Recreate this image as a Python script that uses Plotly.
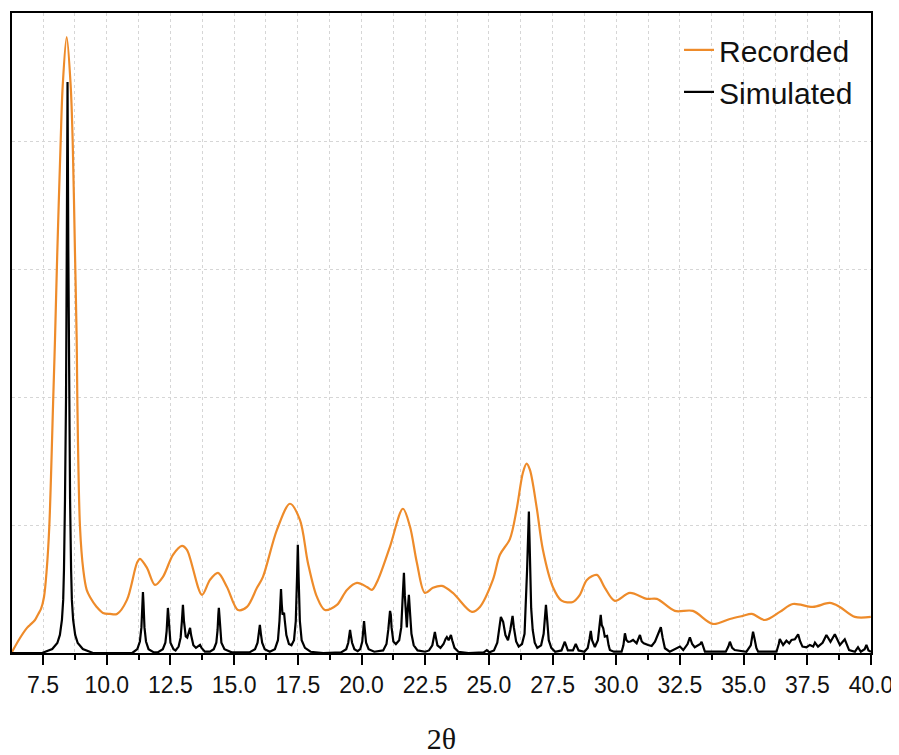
import plotly.graph_objects as go

# ---------------- data ----------------
rec_2theta = [
    6.28, 6.594, 6.869, 6.986, 7.183, 7.312, 7.418, 7.536, 7.642, 7.744,
    7.901, 7.968, 8.058, 8.191, 8.270, 8.427, 8.584, 8.662, 8.752, 8.819,
    8.843, 8.949, 9.078, 9.212, 9.341, 9.604, 9.851, 10.126, 10.401, 10.793,
    11.186, 11.303, 11.578, 11.892, 12.206, 12.599, 12.952, 13.148, 13.737, 14.051,
    14.365, 14.718, 15.150, 15.503, 15.895, 16.131, 16.680, 17.190, 17.583, 17.897,
    18.250, 18.564, 19.035, 19.427, 19.820, 20.212, 20.409, 20.644, 21.115, 21.625,
    21.900, 22.175, 22.489, 22.803, 23.156, 23.587, 24.333, 24.647, 25.157, 25.432,
    25.824, 26.087, 26.335, 26.480, 26.609, 26.872, 27.120, 27.512, 27.853, 28.297,
    28.572, 28.847, 29.239, 29.553, 29.946, 30.535, 31.202, 31.594, 32.301, 33.007,
    33.792, 34.459, 34.969, 35.322, 35.833, 36.422, 36.932, 37.717, 38.384, 38.777,
    39.365, 39.993,
]
rec_intensity = [
    0.008, 0.117, 0.196, 0.219, 0.258, 0.305, 0.344, 0.438, 0.649, 0.986,
    2.003, 2.450, 3.130, 3.998, 4.429, 4.812, 4.429, 3.998, 3.130, 2.450,
    2.003, 0.986, 0.649, 0.493, 0.438, 0.360, 0.313, 0.305, 0.305, 0.415,
    0.704, 0.736, 0.665, 0.532, 0.595, 0.767, 0.837, 0.806, 0.454, 0.571,
    0.626, 0.516, 0.336, 0.360, 0.509, 0.595, 0.962, 1.166, 1.040, 0.704,
    0.438, 0.336, 0.376, 0.493, 0.548, 0.516, 0.493, 0.571, 0.829, 1.127,
    0.990, 0.704, 0.469, 0.509, 0.524, 0.469, 0.321, 0.360, 0.571, 0.767,
    0.890, 1.119, 1.408, 1.479, 1.432, 1.142, 0.806, 0.516, 0.409, 0.399,
    0.454, 0.571, 0.610, 0.509, 0.407, 0.469, 0.423, 0.423, 0.329, 0.329,
    0.227, 0.266, 0.290, 0.305, 0.258, 0.321, 0.383, 0.360, 0.391, 0.360,
    0.282, 0.282,
]

sim_2theta = [
    6.28, 7.46, 7.86, 8.06, 8.16, 8.24, 8.29, 8.32, 8.36, 8.40, 8.43, 8.46,
    8.49, 8.52, 8.56, 8.60, 8.63, 8.68, 8.76, 8.86, 9.06, 9.46,
    11.0, 11.2, 11.30, 11.36, 11.40, 11.42, 11.44, 11.48, 11.54, 11.64, 11.85,
    12.0, 12.2, 12.30, 12.35, 12.38, 12.40, 12.42, 12.45, 12.50, 12.62,
    12.70, 12.82, 12.90, 12.95, 12.99, 13.03, 13.10, 13.16, 13.22, 13.27, 13.31,
    13.40, 13.50, 13.60, 13.66, 13.72, 13.85, 14.05,
    14.2, 14.30, 14.35, 14.38, 14.40, 14.42, 14.45, 14.50, 14.62, 14.9,
    15.6, 15.82, 15.92, 15.97, 16.01, 16.05, 16.10, 16.20, 16.40,
    16.6, 16.72, 16.78, 16.82, 16.84, 16.87, 16.90, 16.94, 16.96, 16.99, 17.05,
    17.15, 17.25, 17.35, 17.42, 17.47, 17.50, 17.53, 17.58, 17.65, 17.78, 18.0, 18.5,
    19.2, 19.40, 19.48, 19.52, 19.55, 19.58, 19.63, 19.72, 19.85,
    19.95, 20.03, 20.07, 20.10, 20.13, 20.18, 20.28, 20.5,
    20.85, 20.98, 21.05, 21.09, 21.12, 21.15, 21.18, 21.25, 21.35,
    21.48, 21.56, 21.62, 21.665, 21.70, 21.76, 21.78, 21.82, 21.86, 21.90, 21.96,
    22.05, 22.2, 22.5,
    22.65, 22.78, 22.84, 22.88, 22.92, 22.98, 23.10, 23.22, 23.30, 23.35, 23.42,
    23.47, 23.51, 23.56, 23.65, 23.8, 24.2, 24.80, 24.92, 25.02,
    25.2, 25.33, 25.40, 25.44, 25.47, 25.52, 25.56, 25.65, 25.75, 25.84, 25.90,
    25.93, 25.98, 26.03, 26.07, 26.17, 26.30, 26.40, 26.46, 26.50, 26.57, 26.62,
    26.66, 26.72, 26.80, 26.90, 27.05, 27.15, 27.20, 27.24, 27.28, 27.35, 27.45,
    27.6, 27.85, 27.98, 28.10, 28.30, 28.41, 28.52,
    28.75, 28.88, 28.95, 29.00, 29.05, 29.16, 29.28, 29.35, 29.39, 29.43, 29.49,
    29.55, 29.64, 29.70, 29.75, 29.9, 30.21, 30.28, 30.34, 30.40, 30.47, 30.56,
    30.66, 30.80, 30.88, 30.93, 31.00, 31.08, 31.25, 31.39, 31.52, 31.68, 31.75,
    31.82, 31.91, 32.10, 32.37, 32.50, 32.63, 32.80, 32.89, 32.98, 33.08, 33.30,
    33.35, 33.42, 33.48, 34.30, 34.40, 34.46, 34.55, 34.65, 35.11, 35.28, 35.33,
    35.37, 35.42, 35.50, 35.57, 36.29, 36.38, 36.42, 36.55, 36.68, 36.79, 36.88,
    37.01, 37.14, 37.22, 37.31, 37.47, 37.60, 37.73, 37.80, 37.92, 38.10, 38.25,
    38.41, 38.58, 38.68, 38.78, 38.97, 39.05, 39.14, 39.37, 39.49, 39.60, 39.75,
    39.82, 39.90, 40.0,
]
sim_intensity = [
    0.0, 0.0, 0.031, 0.078, 0.141, 0.258, 0.415, 0.649, 1.197, 1.980, 3.153, 4.46,
    3.153, 1.980, 1.197, 0.649, 0.415, 0.258, 0.141, 0.078, 0.031, 0.0,
    0.0, 0.03, 0.09, 0.20, 0.40, 0.477, 0.40, 0.20, 0.09, 0.03, 0.005,
    0.005, 0.03, 0.08, 0.17, 0.30, 0.352, 0.30, 0.17, 0.08, 0.03,
    0.02, 0.05, 0.12, 0.25, 0.376, 0.25, 0.13, 0.12, 0.16, 0.196, 0.14,
    0.06, 0.04, 0.055, 0.063, 0.04, 0.01, 0.01,
    0.03, 0.08, 0.18, 0.30, 0.352, 0.30, 0.18, 0.08, 0.03, 0.005,
    0.005, 0.03, 0.08, 0.15, 0.219, 0.15, 0.08, 0.03, 0.01,
    0.03, 0.10, 0.25, 0.42, 0.50, 0.38, 0.30, 0.31, 0.313, 0.25, 0.14,
    0.07, 0.06, 0.10, 0.25, 0.60, 0.845, 0.60, 0.25, 0.10, 0.04, 0.01, 0.0,
    0.005, 0.03, 0.08, 0.14, 0.18, 0.14, 0.08, 0.03, 0.015,
    0.03, 0.09, 0.18, 0.25, 0.18, 0.08, 0.03, 0.01,
    0.02, 0.07, 0.18, 0.31, 0.329, 0.30, 0.20, 0.09, 0.07,
    0.10, 0.20, 0.45, 0.626, 0.45, 0.22, 0.20, 0.35, 0.454, 0.33, 0.15,
    0.06, 0.02, 0.01,
    0.02, 0.06, 0.12, 0.164, 0.12, 0.06, 0.04, 0.07, 0.11, 0.125, 0.10,
    0.13, 0.141, 0.10, 0.04, 0.01, 0.0, 0.005, 0.023, 0.005,
    0.02, 0.08, 0.18, 0.26, 0.282, 0.26, 0.243, 0.14, 0.10, 0.18, 0.27,
    0.29, 0.20, 0.11, 0.09, 0.05, 0.07, 0.15, 0.40, 0.65, 1.106, 0.60,
    0.35, 0.18, 0.08, 0.04, 0.06, 0.15, 0.30, 0.376, 0.28, 0.10, 0.04,
    0.01, 0.02, 0.088, 0.02, 0.02, 0.07, 0.02,
    0.01, 0.04, 0.11, 0.172, 0.10, 0.047, 0.10, 0.22, 0.297, 0.22, 0.193,
    0.128, 0.133, 0.06, 0.023, 0.01, 0.01, 0.06, 0.154, 0.10, 0.088, 0.09,
    0.102, 0.076, 0.12, 0.141, 0.09, 0.076, 0.063, 0.055, 0.088, 0.16, 0.201,
    0.12, 0.037, 0.01, 0.037, 0.05, 0.023, 0.07, 0.123, 0.07, 0.045, 0.07,
    0.088, 0.04, 0.01, 0.01, 0.05, 0.088, 0.04, 0.023, 0.01, 0.06, 0.13,
    0.167, 0.12, 0.04, 0.01, 0.01, 0.07, 0.109, 0.063, 0.096, 0.076, 0.102,
    0.107, 0.146, 0.09, 0.05, 0.045, 0.063, 0.05, 0.081, 0.05, 0.08, 0.141,
    0.088, 0.146, 0.10, 0.063, 0.107, 0.06, 0.023, 0.01, 0.045, 0.01, 0.03,
    0.063, 0.02, 0.01,
]

series_names = ["Recorded", "Simulated"]
x_title = "2θ"

# ---------------- figure ----------------
ORANGE = "#EE8B2A"

fig = go.Figure()
fig.add_trace(go.Scatter(
    x=rec_2theta, y=rec_intensity, mode="lines", name=series_names[0],
    line=dict(color=ORANGE, width=2.2, shape="spline", smoothing=0.9),
))
fig.add_trace(go.Scatter(
    x=sim_2theta, y=sim_intensity, mode="lines", name=series_names[1],
    line=dict(color="black", width=2.2),
))

# the page body adds an 8 px offset, so the figure is 8 px smaller
fig.update_layout(
    width=891, height=747,
    margin=dict(l=4, r=28, t=5, b=102),
    paper_bgcolor="white", plot_bgcolor="white",
    font=dict(family="Liberation Sans, Arial, sans-serif", color="#111111"),
    showlegend=True,
    legend=dict(
        x=0.7765, y=0.983, xanchor="left", yanchor="top",
        bgcolor="rgba(0,0,0,0)", borderwidth=0,
        font=dict(size=30, family="Liberation Sans, Arial, sans-serif", color="#111111"),
        itemwidth=30, tracegroupgap=0,
    ),
)

fig.update_xaxes(
    range=[6.28, 40.0], automargin=False,
    tick0=7.5, dtick=2.5, tickformat=".1f",
    ticks="outside", ticklen=10, tickwidth=2, tickcolor="black",
    tickfont=dict(size=23, family="Liberation Sans, Arial, sans-serif", color="#111111"),
    showline=True, linecolor="black", linewidth=2, mirror=True,
    showgrid=True, gridcolor="#d6d6d6", gridwidth=1, griddash="dot",
    minor=dict(dtick=1.25, tick0=7.5, ticks="outside", ticklen=5, tickwidth=2,
               tickcolor="black", showgrid=True, gridcolor="#d6d6d6",
               gridwidth=1, griddash="dot"),
    zeroline=False,
    title=dict(text=x_title, standoff=31,
               font=dict(size=30, family="Liberation Serif, Times New Roman, serif",
                         color="#111111")),
)
fig.update_yaxes(
    range=[0, 5.0], dtick=1, automargin=False,
    showticklabels=False, ticks="",
    showline=True, linecolor="black", linewidth=2, mirror=True,
    showgrid=True, gridcolor="#d6d6d6", gridwidth=1, griddash="dot",
    zeroline=False,
)

fig.write_html("out.html")
